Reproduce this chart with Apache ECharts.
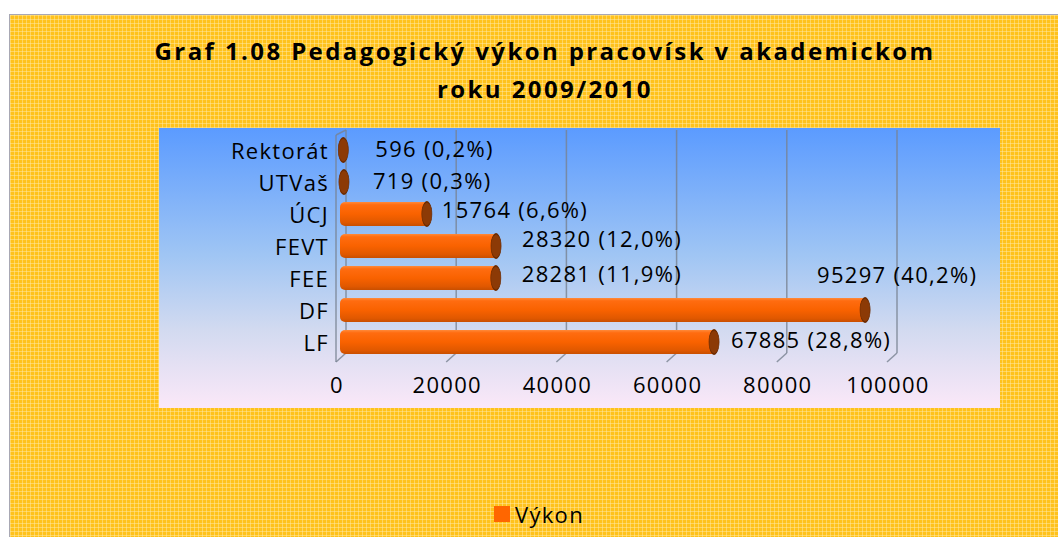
<!DOCTYPE html>
<html>
<head>
<meta charset="utf-8">
<script src="https://cdn.jsdelivr.net/npm/echarts@6/dist/echarts.min.js"></script>
<style>
html,body{margin:0;padding:0;width:1058px;height:537px;overflow:hidden;background:#fff;}
#bg{position:absolute;left:9px;top:14px;width:1100px;height:600px;border-top:1px solid #a8a8b4;border-left:1px solid #a8a8b4;
background-color:#ffc21c;
background-image:linear-gradient(90deg, rgba(255,236,180,0.45) 1px, transparent 1px),linear-gradient(rgba(255,236,180,0.45) 1px, transparent 1px);
background-size:4px 4px;}
#chart{position:absolute;left:0;top:0;width:1058px;height:537px;}
#chart svg text{letter-spacing:1.3px;}
#chart svg text[style*="bold"], #chart svg text[font-weight="bold"]{letter-spacing:2.4px;}
</style>
</head>
<body>
<div id="bg"></div>
<div id="chart"></div>
<script>
// ---- data ----
const TITLE_LINE1 = 'Graf 1.08 Pedagogický výkon pracovísk v akademickom';
const TITLE_LINE2 = 'roku 2009/2010';
const CATEGORIES = ['Rektorát', 'UTVaš', 'ÚCJ', 'FEVT', 'FEE', 'DF', 'LF'];
const VALUES = [596, 719, 15764, 28320, 28281, 95297, 67885];
const PERCENTS = ['0,2%', '0,3%', '6,6%', '12,0%', '11,9%', '40,2%', '28,8%'];
const TICKS = [0, 20000, 40000, 60000, 80000, 100000];
const SERIES_NAME = 'Výkon';

// ---- styling (label nudges, mimic Excel 3D label placement) ----
const LABEL_NUDGE = [[32,-2],[29,-2],[15,-5],[26,-8],[26,-5],[-48,-36],[17,-3]];
const FONT = '"Open Sans", "Noto Sans", sans-serif';

const chart = echarts.init(document.getElementById('chart'), null, {renderer: 'svg'});

const barData = VALUES.map((v, i) => ({
  value: v,
  label: {offset: LABEL_NUDGE[i]}
}));

const option = {
  animation: false,
  graphic: [
    {type: 'rect', z: -10, silent: true, shape: {x: 159, y: 128, width: 841, height: 280},
     style: {fill: new echarts.graphic.LinearGradient(0, 0, 0, 1, [
       {offset: 0, color: '#5b9bff'},
       {offset: 0.45, color: '#9fc5f4'},
       {offset: 0.72, color: '#d2daf0'},
       {offset: 1, color: '#fbe8f8'}
     ])}},
    {type: 'text', x: 545, y: 50, silent: true,
     style: {text: TITLE_LINE1, font: 'bold 24px ' + FONT, fill: '#000', align: 'center', verticalAlign: 'middle'}},
    {type: 'text', x: 545, y: 88, silent: true,
     style: {text: TITLE_LINE2, font: 'bold 24px ' + FONT, fill: '#000', align: 'center', verticalAlign: 'middle'}}
  ],
  legend: {
    data: [{name: SERIES_NAME, itemStyle: {color: '#ff6600'}}],
    left: 489, top: 498,
    icon: 'rect', itemWidth: 16, itemHeight: 16, itemGap: 10,
    textStyle: {fontFamily: FONT, fontSize: 22, color: '#000'}
  },
  grid: {left: 340, top: 134, width: 551, height: 224, containLabel: false},
  xAxis: {
    type: 'value', min: 0, max: TICKS[TICKS.length - 1], interval: TICKS[1] - TICKS[0],
    axisLine: {show: false}, axisTick: {show: false}, splitLine: {show: false},
    axisLabel: {margin: 15, fontFamily: FONT, fontSize: 22, color: '#000', padding: [0, 6, 0, 0],
                formatter: v => String(v)}
  },
  yAxis: {
    type: 'category', inverse: true, data: CATEGORIES,
    axisLine: {show: false}, axisTick: {show: false},
    axisLabel: {margin: 11, fontFamily: FONT, fontSize: 22, color: '#000', padding: [8, 0, 0, 0]}
  },
  series: [
    {
      name: 'walls', type: 'custom', silent: true, z: 1, clip: false,
      data: TICKS.map(t => [t, 0]),
      renderItem: function (params, api) {
        const x = api.coord([api.value(0), 0])[0];
        const cs = params.coordSys;
        const top = cs.y, bot = cs.y + cs.height;
        const st = {stroke: 'rgba(120,130,145,0.8)', lineWidth: 1.5, fill: null};
        const ch = [
          {type: 'line', shape: {x1: x + 6, y1: top - 4, x2: x + 6, y2: bot - 5}, style: st},
          {type: 'line', shape: {x1: x + 6, y1: bot - 5, x2: x - 4, y2: bot + 4}, style: st}
        ];
        if (api.value(0) === 0) {
          ch.push({type: 'line', shape: {x1: x - 4, y1: top + 1, x2: x - 4, y2: bot + 4}, style: st});
          ch.push({type: 'line', shape: {x1: x - 4, y1: top + 1, x2: x + 6, y2: top - 4}, style: st});
        }
        return {type: 'group', children: ch};
      }
    },
    {
      name: SERIES_NAME, type: 'bar', z: 3,
      barWidth: 24,
      data: barData,
      itemStyle: {
        color: new echarts.graphic.LinearGradient(0, 0, 0, 1, [
          {offset: 0, color: '#ff8a3a'},
          {offset: 0.12, color: '#ff6c10'},
          {offset: 0.5, color: '#f96200'},
          {offset: 0.85, color: '#e05800'},
          {offset: 1, color: '#c94f00'}
        ]),
        borderRadius: [5, 0, 0, 5]
      },
      label: {
        show: true, position: 'right', distance: 0,
        fontFamily: FONT, fontSize: 22, color: '#000',
        formatter: p => VALUES[p.dataIndex] + ' (' + PERCENTS[p.dataIndex] + ')'
      }
    },
    {
      name: 'caps', type: 'custom', z: 4, silent: true, clip: false,
      data: VALUES.map((v, i) => [v, i]),
      renderItem: function (params, api) {
        const p = api.coord([api.value(0), api.value(1)]);
        return {
          type: 'circle', x: p[0], y: p[1], scaleX: 0.42,
          shape: {cx: 0, cy: 0, r: 12},
          style: {fill: '#8c3a06', stroke: '#6a2a00', lineWidth: 1.5}
        };
      }
    }
  ],
  color: ['#ff6600']
};
chart.setOption(option);
</script>
</body>
</html>
